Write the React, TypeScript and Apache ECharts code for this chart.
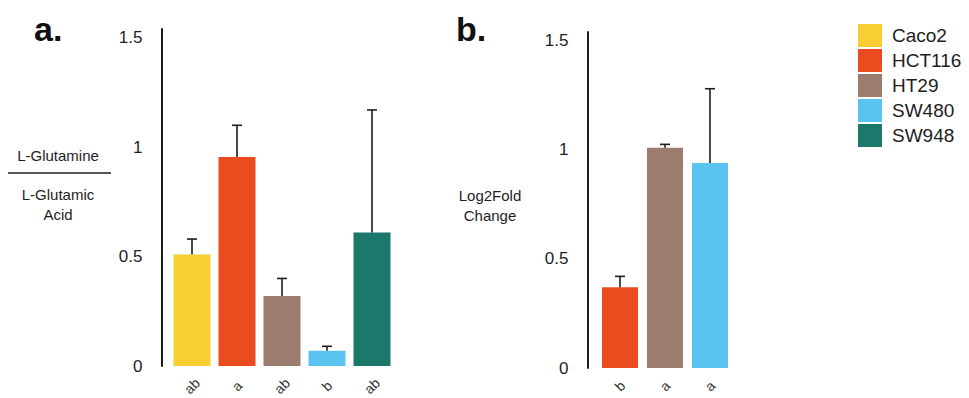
import React, { useEffect, useRef } from "react";
import * as echarts from "echarts";

const cellLines = ["Caco2", "HCT116", "HT29", "SW480", "SW948"];
const cellColors = ["#F8CE32", "#EA4C1F", "#9B7C6E", "#5BC3F0", "#1B786A"];

// Panel a: L-Glutamine / L-Glutamic Acid
const aCategories = ["Caco2", "HCT116", "HT29", "SW480", "SW948"];
const aLetters = ["ab", "a", "ab", "b", "ab"];
const aMeans = [0.51, 0.955, 0.32, 0.07, 0.61];
const aErrors = [0.07, 0.145, 0.08, 0.02, 0.56];

// Panel b: Log2Fold Change
const bCategories = ["HCT116", "HT29", "SW480"];
const bLetters = ["b", "a", "a"];
const bMeans = [0.37, 1.01, 0.94];
const bErrors = [0.05, 0.015, 0.34];

const yTicks = [0, 0.5, 1, 1.5];

const FONT = "'Liberation Sans', Arial, Helvetica, sans-serif";
const INK = "#1e1e1e";

function colorOf(name: string) {
  return cellColors[cellLines.indexOf(name)];
}

function errorRender(means: number[], errs: number[]) {
  return (params: any, api: any) => {
    const i = api.value(0);
    const top = api.coord([i, means[i] + errs[i]]);
    const base = api.coord([i, means[i]]);
    return {
      type: "group",
      children: [
        {
          type: "line",
          shape: { x1: top[0], y1: top[1], x2: base[0], y2: base[1] },
          style: { stroke: INK, lineWidth: 1.6 },
        },
        {
          type: "line",
          shape: { x1: top[0] - 5, y1: top[1], x2: top[0] + 5, y2: top[1] },
          style: { stroke: INK, lineWidth: 1.6 },
        },
      ],
    };
  };
}

export default function App() {
  const ref = useRef<HTMLDivElement>(null);
  useEffect(() => {
    document.body.style.margin = "0";
    const chart = echarts.init(ref.current!, undefined, { renderer: "svg" });

    const yAxisBase = (gridIndex: number, offset: number) => ({
      type: "value",
      gridIndex,
      min: 0,
      max: 1.54,
      interval: 0.5,
      offset,
      splitLine: { show: false },
      axisTick: { show: false },
      axisLine: { show: true, lineStyle: { color: INK, width: 2 } },
      axisLabel: {
        margin: 19,
        color: INK,
        fontSize: 17,
        fontFamily: FONT,
        formatter: (v: number) =>
          yTicks.some((t) => Math.abs(t - v) < 1e-6) ? String(v) : "",
      },
    });

    const xAxisBase = (gridIndex: number, cats: string[], letters: string[], margin: number) => ({
      type: "category",
      gridIndex,
      data: cats,
      axisLine: { show: false },
      axisTick: { show: false },
      axisLabel: {
        rotate: 45,
        margin,
        align: "center",
        verticalAlign: "middle",
        color: "#333",
        fontSize: 14,
        fontFamily: FONT,
        interval: 0,
        formatter: (_v: string, idx: number) => letters[idx],
      },
    });

    const aSeries = aCategories.map((name, i) => ({
      type: "bar",
      name,
      xAxisIndex: 0,
      yAxisIndex: 0,
      stack: "a",
      barWidth: 37,
      itemStyle: { color: colorOf(name) },
      data: aCategories.map((_, j) => (j === i ? aMeans[i] : "-")),
    }));
    const bSeries = bCategories.map((name, i) => ({
      type: "bar",
      name,
      xAxisIndex: 1,
      yAxisIndex: 1,
      stack: "b",
      barWidth: 36,
      itemStyle: { color: colorOf(name) },
      data: bCategories.map((_, j) => (j === i ? bMeans[i] : "-")),
    }));

    chart.setOption({
      animation: false,
      textStyle: { fontFamily: FONT },
      grid: [
        { left: 169.5, top: 29, width: 225, height: 337, outerBoundsMode: "none", containLabel: false },
        { left: 597.5, top: 32, width: 135, height: 336, outerBoundsMode: "none", containLabel: false },
      ],
      xAxis: [
        xAxisBase(0, aCategories, aLetters, 20),
        xAxisBase(1, bCategories, bLetters, 18),
      ],
      yAxis: [yAxisBase(0, 8), yAxisBase(1, 10)],
      legend: {
        orient: "vertical",
        left: 858,
        top: 24,
        padding: 0,
        icon: "rect",
        itemWidth: 24,
        itemHeight: 23,
        itemGap: 2,
        selectedMode: false,
        data: cellLines,
        textStyle: {
          color: INK,
          fontSize: 19,
          fontFamily: FONT,
          padding: [0, 0, 0, 5],
        },
      },
      series: [
        ...aSeries,
        ...bSeries,
        {
          type: "custom",
          xAxisIndex: 0,
          yAxisIndex: 0,
          renderItem: errorRender(aMeans, aErrors),
          data: aMeans.map((m, i) => [i, m + aErrors[i]]),
          z: 5,
        },
        {
          type: "custom",
          xAxisIndex: 1,
          yAxisIndex: 1,
          renderItem: errorRender(bMeans, bErrors),
          data: bMeans.map((m, i) => [i, m + bErrors[i]]),
          z: 5,
        },
      ],
      graphic: [
        {
          type: "text",
          left: 34,
          top: 12,
          style: { text: "a.", font: `bold 34px ${FONT}`, fill: "#111" },
        },
        {
          type: "text",
          left: 456,
          top: 12,
          style: { text: "b.", font: `bold 34px ${FONT}`, fill: "#111" },
        },
        {
          type: "text",
          x: 58,
          y: 155,
          style: {
            text: "L-Glutamine",
            font: `15px ${FONT}`,
            fill: INK,
            align: "center",
            verticalAlign: "middle",
          },
        },
        {
          type: "line",
          shape: { x1: 8, y1: 173, x2: 111, y2: 173 },
          style: { stroke: INK, lineWidth: 1.5 },
        },
        {
          type: "text",
          x: 58,
          y: 204,
          style: {
            text: "L-Glutamic\nAcid",
            font: `15px ${FONT}`,
            fill: INK,
            align: "center",
            verticalAlign: "middle",
            lineHeight: 20,
          },
        },
        {
          type: "text",
          x: 490,
          y: 205,
          style: {
            text: "Log2Fold\nChange",
            font: `15px ${FONT}`,
            fill: INK,
            align: "center",
            verticalAlign: "middle",
            lineHeight: 20,
          },
        },
      ],
    });
    return () => chart.dispose();
  }, []);
  return (
    <div
      ref={ref}
      style={{ position: "fixed", left: 0, top: 0, width: 969, height: 398, background: "#fff" }}
    />
  );
}
